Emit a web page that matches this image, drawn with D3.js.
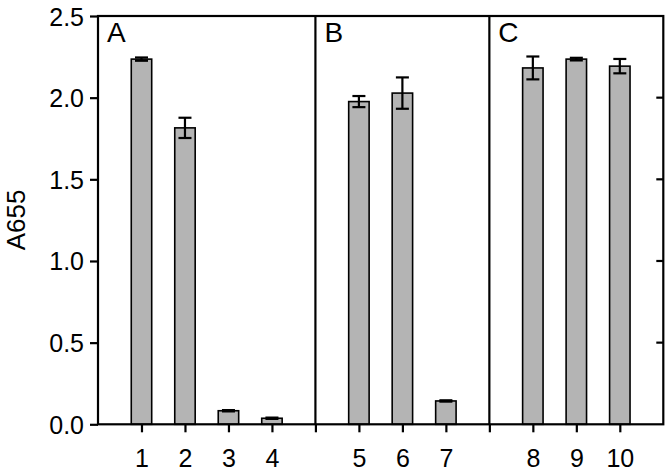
<!DOCTYPE html>
<html><head><meta charset="utf-8">
<script src="https://cdn.jsdelivr.net/npm/d3@7"></script>
<style>body{margin:0;background:#fff}svg{display:block}text{font-family:"Liberation Sans",Arial,sans-serif;fill:#000}</style>
</head><body>
<svg id="c" width="672" height="473"></svg>
<script>
const categories = ["1","2","3","4","5","6","7","8","9","10"];
const panelOf    = ["A","A","A","A","B","B","B","C","C","C"];
const panels     = ["A","B","C"];
const values     = [2.236, 1.815, 0.083, 0.037, 1.976, 2.028, 0.143, 2.182, 2.236, 2.193];
const errors     = [0.010, 0.062, 0.004, 0.004, 0.034, 0.096, 0.004, 0.070, 0.008, 0.044];
const yTicks     = [0, 0.5, 1.0, 1.5, 2.0, 2.5];
const yLabel     = "A655";

// slot layout: one empty slot between panels
const slots = []; const dividers = [];
let s = 0;
categories.forEach((c,i)=>{
  if(i>0 && panelOf[i]!==panelOf[i-1]){ s++; dividers.push(s); }
  s++; slots.push(s);
});
const nSlots = s + 1;

const svg = d3.select("#c");
const L=98, R=663.3, T=16, B=424.3;
const x = d3.scaleLinear().domain([0,nSlots]).range([L,R]);
const y = d3.scaleLinear().domain([0,2.5]).range([B,T]);
const bw = (x(1)-x(0))*0.47;
const FONT = "Liberation Sans, Arial, sans-serif";

// bars
const g = svg.append("g");
g.selectAll("rect.bar").data(values).join("rect")
  .attr("x",(d,i)=>x(slots[i])-bw/2).attr("width",bw)
  .attr("y",d=>y(d)).attr("height",d=>y(0)-y(d))
  .attr("fill","#b4b4b4").attr("stroke","#000").attr("stroke-width",1.6);

// error bars
const cap = 6.5;
const eg = g.selectAll("g.err").data(values).join("g").attr("stroke","#000").attr("stroke-width",2.2);
eg.append("line").attr("x1",(d,i)=>x(slots[i])).attr("x2",(d,i)=>x(slots[i]))
  .attr("y1",(d,i)=>y(d+errors[i])).attr("y2",(d,i)=>y(d-errors[i]));
eg.append("line").attr("x1",(d,i)=>x(slots[i])-cap).attr("x2",(d,i)=>x(slots[i])+cap)
  .attr("y1",(d,i)=>y(d+errors[i])).attr("y2",(d,i)=>y(d+errors[i]));
eg.append("line").attr("x1",(d,i)=>x(slots[i])-cap).attr("x2",(d,i)=>x(slots[i])+cap)
  .attr("y1",(d,i)=>y(d-errors[i])).attr("y2",(d,i)=>y(d-errors[i]));

// frame
const fr = svg.append("g").attr("stroke","#000").attr("stroke-width",2.2).attr("fill","none");
fr.append("rect").attr("x",L).attr("y",T).attr("width",R-L).attr("height",B-T);
fr.selectAll("line.div").data(dividers).join("line")
  .attr("x1",d=>x(d)).attr("x2",d=>x(d)).attr("y1",T).attr("y2",B);

// y axis
const yAxis = d3.axisLeft(y).tickValues(yTicks).tickFormat(d3.format(".1f")).tickSizeOuter(0).tickSizeInner(8).tickPadding(6);
const ya = svg.append("g").attr("transform",`translate(${L},0)`).call(yAxis);
ya.select(".domain").remove();
ya.selectAll(".tick line").attr("stroke","#000").attr("stroke-width",2.2);
ya.selectAll(".tick text").attr("font-size",25).attr("font-family",FONT).attr("dy","0.36em");

// right inner ticks
svg.append("g").selectAll("line").data(yTicks.slice(1,-1)).join("line")
  .attr("x1",R-7).attr("x2",R).attr("y1",d=>y(d)).attr("y2",d=>y(d))
  .attr("stroke","#000").attr("stroke-width",2.2);

// x axis
const xTickVals = slots.concat(dividers);
const xAxis = d3.axisBottom(x).tickValues(xTickVals)
  .tickFormat(v=>{const k=slots.indexOf(v); return k>=0?categories[k]:"";})
  .tickSizeOuter(0).tickSizeInner(8).tickPadding(17);
const xa = svg.append("g").attr("transform",`translate(0,${B})`).call(xAxis);
xa.select(".domain").remove();
xa.selectAll(".tick line").attr("stroke","#000").attr("stroke-width",2.2);
xa.selectAll(".tick text").attr("font-size",25).attr("font-family",FONT);

// panel labels
const panelStart = panels.map((p,j)=> j===0 ? 0 : dividers[j-1]);
svg.append("g").selectAll("text").data(panels).join("text")
  .attr("x",(d,i)=>x(panelStart[i])+9).attr("y",42)
  .attr("font-size",28).text(d=>d);

// y label
svg.append("text").attr("transform",`translate(25,220) rotate(-90)`)
  .attr("text-anchor","middle").attr("font-size",26).text(yLabel);
</script>
</body></html>
